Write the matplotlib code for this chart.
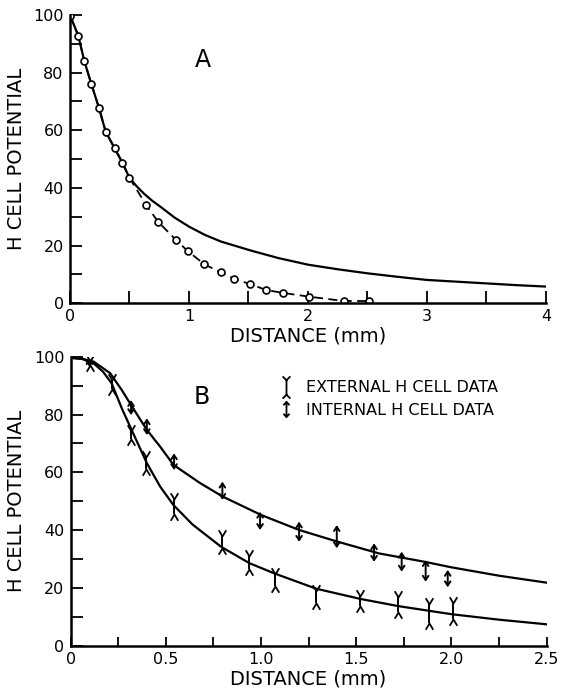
import matplotlib
matplotlib.use('Agg')
import matplotlib.pyplot as plt
from matplotlib.path import Path
from matplotlib.lines import Line2D
from matplotlib.ticker import MultipleLocator, FuncFormatter

plt.rcParams['font.family'] = ['DejaVu Sans']

# ---- panel A: measured points (circles) and theory curve (mm, %)
dist_a_data = [0.0, 0.07, 0.12, 0.18, 0.245, 0.30, 0.375, 0.44, 0.50, 0.64, 0.74,
               0.89, 0.99, 1.13, 1.27, 1.38, 1.51, 1.65, 1.79, 2.01, 2.30, 2.51]
pot_a_data = [99.8, 92.8, 84.1, 76.0, 67.6, 59.5, 53.8, 48.8, 43.5, 34.1, 28.3,
              22.0, 18.1, 13.5, 10.7, 8.5, 6.7, 4.6, 3.6, 2.3, 0.8, 0.8]

dist_a_theory = [0.0, 0.07, 0.12, 0.18, 0.245, 0.30, 0.375, 0.44, 0.50, 0.56, 0.62,
                 0.69, 0.76, 0.88, 1.0, 1.13, 1.27, 1.52, 1.75, 2.0, 2.25, 2.5,
                 2.75, 3.0, 3.25, 3.5, 3.75, 4.0]
pot_a_theory = [100, 92.8, 84.1, 76.0, 67.6, 59.5, 53.8, 48.8, 43.5, 40.6, 38.1,
                35.6, 33.5, 29.7, 26.6, 23.8, 21.4, 18.3, 15.7, 13.4, 11.8, 10.4,
                9.2, 8.1, 7.5, 6.9, 6.3, 5.8]

# ---- panel B: theory curves
dist_b_ext_curve = [0.0, 0.06, 0.12, 0.17, 0.215, 0.27, 0.32, 0.40, 0.47, 0.54, 0.64,
                    0.79, 0.94, 1.07, 1.29, 1.52, 1.72, 1.88, 2.0, 2.25, 2.5]
pot_b_ext_curve = [99.6, 99.2, 97.7, 94.8, 90.8, 81.9, 74.7, 63.2, 55.1, 48.7, 42.0,
                   34.3, 28.6, 25.1, 19.8, 16.3, 13.8, 12.2, 11.0, 9.1, 7.5]

dist_b_int_curve = [0.0, 0.06, 0.12, 0.207, 0.268, 0.317, 0.40, 0.47, 0.54, 0.68, 0.80,
                    1.0, 1.2, 1.4, 1.62, 1.86, 2.0, 2.25, 2.5]
pot_b_int_curve = [99.6, 99.3, 98.3, 94.3, 88.5, 83.3, 74.7, 68.9, 62.6, 56.3, 51.6,
                   45.3, 40.1, 36.1, 32.0, 29.1, 27.2, 24.3, 21.9]

# ---- panel B: external data, stem ends of each forked bar
ext_x = [0.10, 0.215, 0.317, 0.396, 0.543, 0.797, 0.937, 1.074, 1.287, 1.52, 1.72, 1.883, 2.01]
ext_lo = [97.0, 89.0, 71.5, 61.1, 45.6, 34.0, 26.5, 20.8, 15.0, 13.9, 11.6, 7.8, 9.3]
ext_hi = [98.5, 92.0, 74.4, 65.2, 50.8, 38.1, 31.2, 24.9, 19.1, 17.4, 16.8, 14.5, 14.8]

# ---- panel B: internal data, arrow tips of each bar
int_x = [0.098, 0.317, 0.40, 0.543, 0.797, 0.995, 1.2, 1.398, 1.594, 1.739, 1.865, 1.981]
int_lo = [96.5, 79.8, 72.9, 60.8, 50.5, 40.1, 36.0, 33.8, 29.1, 25.7, 22.2, 20.3]
int_hi = [99.5, 85.0, 78.7, 66.6, 56.8, 46.4, 43.0, 41.8, 35.5, 32.6, 29.7, 26.3]

# fork caps and legend glyphs
fork_up = Path([(-0.6, 1.0), (0, 0), (0.6, 1.0)])
fork_down = Path([(-0.6, -1.0), (0, 0), (0.6, -1.0)])
ext_glyph = Path([(0, -0.65), (0, 0.65), (-0.35, 1.0), (0, 0.65), (0.35, 1.0),
                  (-0.35, -1.0), (0, -0.65), (0.35, -1.0)],
                 [Path.MOVETO, Path.LINETO, Path.MOVETO, Path.LINETO, Path.LINETO,
                  Path.MOVETO, Path.LINETO, Path.LINETO])
int_glyph = Path([(0, -1), (0, 1), (-0.4, 0.55), (0, 1), (0.4, 0.55),
                  (-0.4, -0.55), (0, -1), (0.4, -0.55)],
                 [Path.MOVETO, Path.LINETO, Path.MOVETO, Path.LINETO, Path.LINETO,
                  Path.MOVETO, Path.LINETO, Path.LINETO])


def style_axes(ax, xmax, xmajor, xminor, xticklen):
    for s in ['top', 'right']:
        ax.spines[s].set_visible(False)
    for s in ['left', 'bottom']:
        ax.spines[s].set_linewidth(1.8)
    ax.set_ylim(0, 100)
    ax.set_xlim(0, xmax)
    ax.yaxis.set_major_locator(MultipleLocator(20))
    ax.yaxis.set_minor_locator(MultipleLocator(10))
    ax.xaxis.set_major_locator(MultipleLocator(xmajor))
    ax.xaxis.set_minor_locator(MultipleLocator(xminor))
    ax.tick_params(axis='y', which='both', direction='in', length=8.5, width=1.3,
                   labelsize=11.5, pad=4.5)
    ax.tick_params(axis='x', which='both', direction='in', length=xticklen, width=1.3,
                   labelsize=11.5, pad=4)
    ax.set_ylabel('H CELL POTENTIAL', fontsize=14, va='center')
    ax.yaxis.set_label_coords(-0.113, 0.5)
    ax.set_xlabel('DISTANCE (mm)', fontsize=14, va='center')
    ax.xaxis.set_label_coords(0.5, -0.115)


fig = plt.figure(figsize=(5.63, 6.95), dpi=100)
ax_a = fig.add_axes([0.1243, 0.5636, 0.8455, 0.4148])
ax_b = fig.add_axes([0.1256, 0.0705, 0.8451, 0.4163])

# panel A
style_axes(ax_a, 4, 1, 0.5, 8.5)
ax_a.plot(dist_a_theory, pot_a_theory, color='black', lw=1.6)
ax_a.plot(dist_a_data, pot_a_data, color='black', lw=1.3, ls=(0, (5, 3)),
          marker='o', ms=5, mfc='white', mec='black', mew=1.2)
ax_a.text(1.12, 84.4, 'A', fontsize=17, ha='center', va='center')

# panel B
style_axes(ax_b, 2.5, 0.5, 0.25, 6.5)
ax_b.xaxis.set_major_formatter(FuncFormatter(lambda v, p: '0' if v == 0 else f'{v:.1f}'))
ax_b.plot(dist_b_ext_curve, pot_b_ext_curve, color='black', lw=1.6)
ax_b.plot(dist_b_int_curve, pot_b_int_curve, color='black', lw=1.6)

ax_b.vlines(ext_x, ext_lo, ext_hi, color='black', lw=1.4)
ax_b.plot(ext_x, ext_hi, ls='none', marker=fork_up, ms=9, mew=1.3, mfc='none', mec='black')
ax_b.plot(ext_x, ext_lo, ls='none', marker=fork_down, ms=9, mew=1.3, mfc='none', mec='black')

for x, lo, hi in zip(int_x, int_lo, int_hi):
    ax_b.annotate('', xy=(x, hi), xytext=(x, lo),
                  arrowprops=dict(arrowstyle='<->,head_length=0.3,head_width=0.2',
                                  color='black', lw=1.4, shrinkA=0, shrinkB=0))

ax_b.text(0.69, 86.2, 'B', fontsize=17, ha='center', va='center')

handles = [Line2D([], [], ls='none', marker=ext_glyph, ms=16, mfc='none', mec='black', mew=1.3),
           Line2D([], [], ls='none', marker=int_glyph, ms=11, mfc='none', mec='black', mew=1.3)]
ax_b.legend(handles, ['EXTERNAL H CELL DATA', 'INTERNAL H CELL DATA'],
            loc='upper left', bbox_to_anchor=(0.4365, 0.918), frameon=False,
            fontsize=11.5, borderpad=0, borderaxespad=0, handlelength=1.0,
            handletextpad=0.7, labelspacing=0.45)

fig.savefig('out.png', dpi=100)
